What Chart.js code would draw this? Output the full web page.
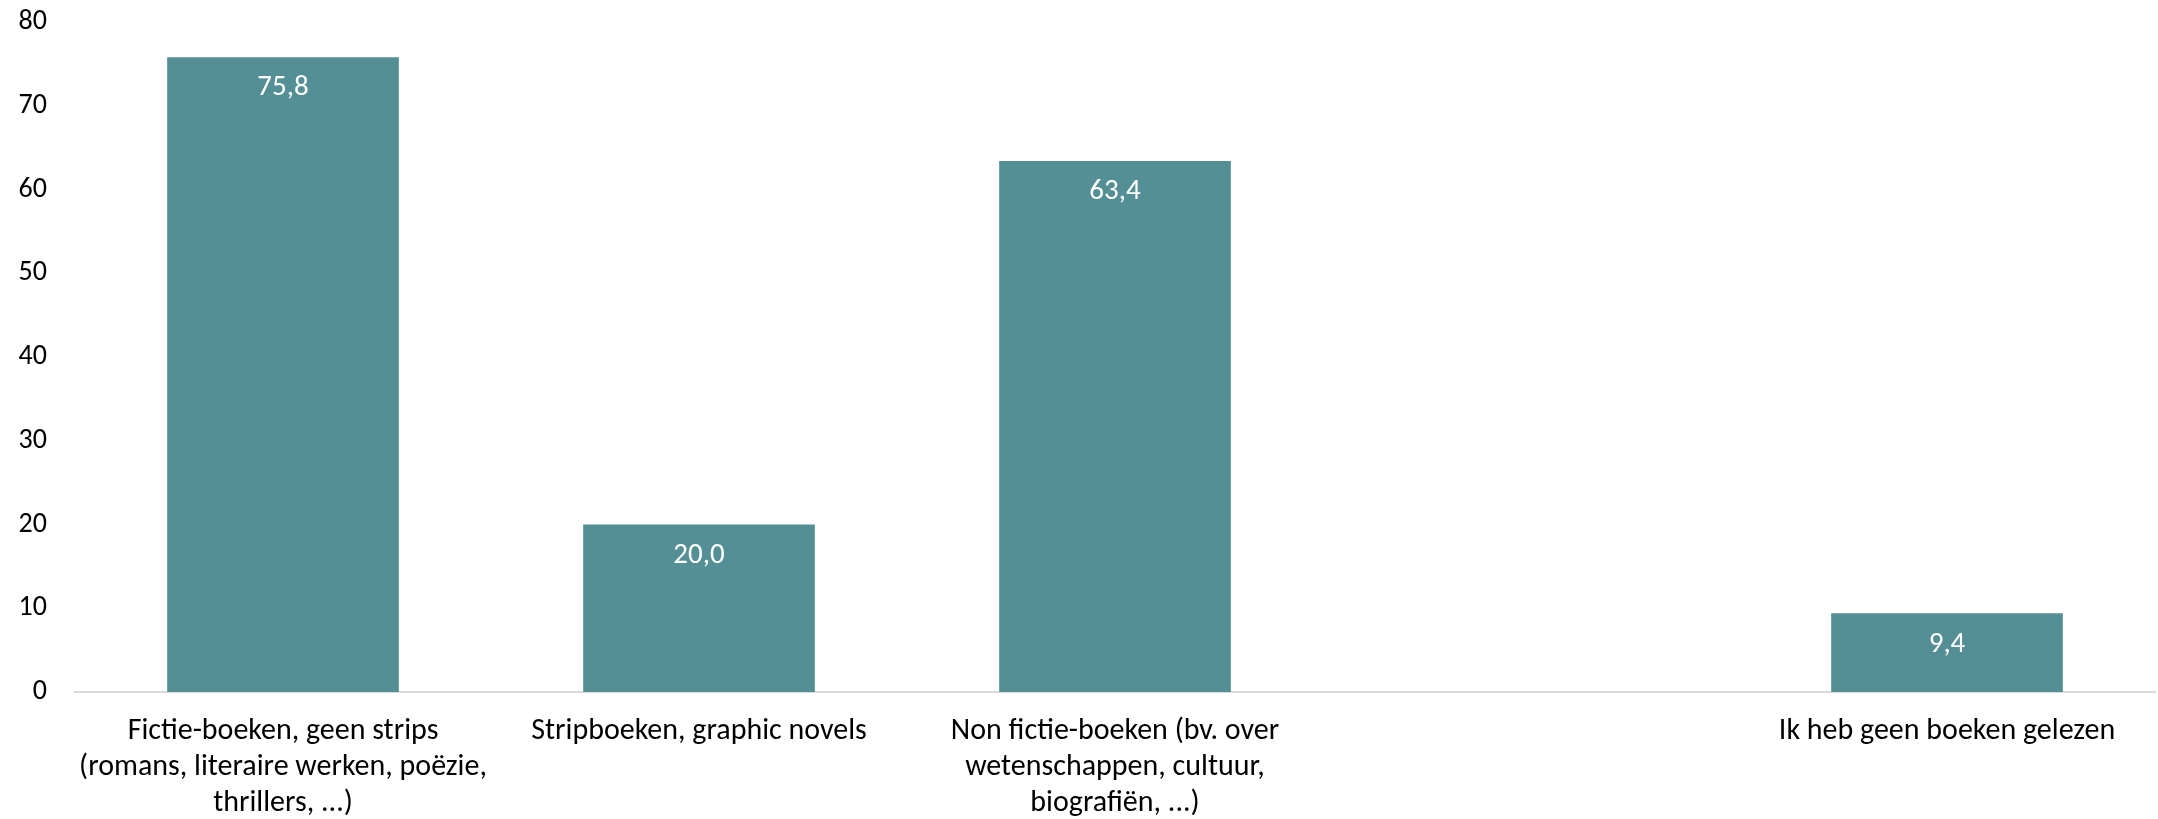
<!DOCTYPE html>
<html>
<head>
<meta charset="utf-8">
<script src="https://cdn.jsdelivr.net/npm/chart.js@4/dist/chart.umd.min.js"></script>
<style>
  body { margin: 0; background: #fff; }
  #wrap { width: 2158px; height: 819px; }
</style>
</head>
<body>
<div id="wrap"><canvas id="chart" width="2158" height="819"></canvas></div>
<script>
// Data
const categories = [
    ['Fictie-boeken, geen strips', '(romans, literaire werken, poëzie,', 'thrillers, ...)'],
    ['Stripboeken, graphic novels'],
    ['Non fictie-boeken (bv. over', 'wetenschappen, cultuur,', 'biografiën, ...)'],
    [''],
    ['Ik heb geen boeken gelezen']
];
const values = [75.8, 20.0, 63.4, null, 9.4];
const yTicks = [0, 10, 20, 30, 40, 50, 60, 70, 80];

const FONT = "Carlito, Calibri, Lato, sans-serif";
const BAR_COLOR = '#558f96';

// value labels inside top of bars
const valueLabels = {
    id: 'valueLabels',
    afterDatasetsDraw(chart) {
        const ctx = chart.ctx;
        const meta = chart.getDatasetMeta(0);
        ctx.save();
        ctx.fillStyle = '#ffffff';
        ctx.font = '29px ' + FONT;
        ctx.textAlign = 'center';
        ctx.textBaseline = 'middle';
        meta.data.forEach((bar, i) => {
            if (values[i] == null) return;
            ctx.fillText(values[i].toFixed(1).replace('.', ','), bar.x, bar.y + 31);
        });
        ctx.restore();
    }
};

const chart = new Chart('chart', {
    type: 'bar',
    data: {
        labels: categories,
        datasets: [{
            data: values,
            backgroundColor: BAR_COLOR,
            borderWidth: 0,
            barPercentage: 0.557,
            categoryPercentage: 1
        }]
    },
    options: {
        responsive: false,
        animation: false,
        devicePixelRatio: 1,
        layout: { padding: { top: 22, right: 3, left: 0, bottom: 0 } },
        plugins: {
            legend: { display: false },
            tooltip: { enabled: false }
        },
        scales: {
            x: {
                grid: { display: false, drawTicks: false },
                border: { display: true, color: '#d9d9d9', width: 2 },
                ticks: {
                    color: '#000',
                    padding: 21,
                    maxRotation: 0,
                    autoSkip: false,
                    font: { family: FONT, size: 30, lineHeight: 1.21 }
                },
                afterFit: (s) => { s.height = 127; }
            },
            y: {
                min: 0,
                max: 80,
                afterBuildTicks: (s) => { s.ticks = yTicks.map(v => ({ value: v })); },
                grid: { display: false, drawTicks: false },
                border: { display: false },
                ticks: {
                    color: '#000',
                    padding: 28,
                    font: { family: FONT, size: 28, lineHeight: 1.2 }
                },
                afterFit: (s) => {
                    s.width = 75;
                    // tick padding should only push labels sideways
                    s.paddingTop = 0;
                    s.paddingBottom = 0;
                }
            }
        }
    },
    plugins: [valueLabels]
});
</script>
</body>
</html>
